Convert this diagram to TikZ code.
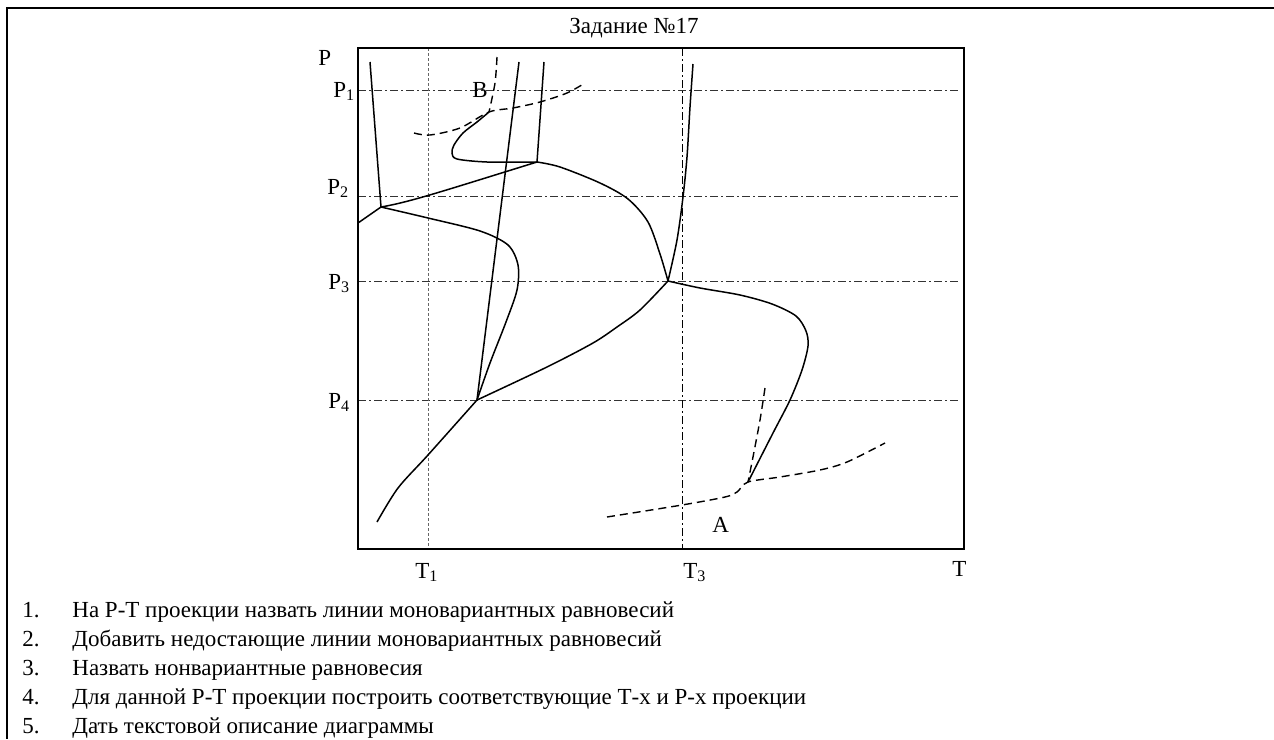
\documentclass[tikz,border=0pt]{standalone}
\usepackage{fontspec}
\setmainfont{Liberation Serif}
\begin{document}
\begin{tikzpicture}[x=0.5pt,y=-0.5pt,
    curve/.style={line width=0.75pt},
    dashcurve/.style={line width=0.7pt, dash pattern=on 4pt off 2.5pt},
    gridline/.style={line width=0.45pt, black!80, dash pattern=on 4pt off 1.5pt on 1pt off 1.5pt},
    tline/.style={line width=0.45pt, black!60, dash pattern=on 1.5pt off 1pt},
    lab/.style={inner sep=0pt, anchor=base west, font=\fontsize{11.5}{13}\selectfont}]
    \useasboundingbox (0,0) rectangle (1274,739);

    % Frame of the page
    \draw[line width=1.3pt] (6,8) -- (1274,8);
    \draw[line width=1.3pt] (7,8) -- (7,739);
    \node[lab] (title) at (569,33) {Задание №17};

    % Grid lines
    \foreach \y in {90,196,281,400}
        \draw[gridline] (358,\y) -- (961,\y);
    \draw[tline] (428,48) -- (428,548);
    \draw[gridline, black] (682,48) -- (682,548);

    % Box of the P-T projection
    \draw[line width=0.7pt] (358,48) rectangle (964,549);

    % Axis labels
    \node[lab] (lP) at (318,65) {P};
    \node[lab] (lP1) at (333,97) {P\textsubscript{1}};
    \node[lab] (lP2) at (327,194) {P\textsubscript{2}};
    \node[lab] (lP3) at (328,289) {P\textsubscript{3}};
    \node[lab] (lP4) at (328,408) {P\textsubscript{4}};
    \node[lab] (lT1) at (415,578) {T\textsubscript{1}};
    \node[lab] (lT3) at (683,578) {T\textsubscript{3}};
    \node[lab] (lT) at (952,576) {T};

    % Invariant points
    \coordinate (I1) at (381,207);
    \coordinate (I2) at (537,162);
    \coordinate (I3) at (668,281);
    \coordinate (I4) at (477,400);
    \coordinate (Bp) at (489,112);
    \coordinate (Ap) at (748,482);

    % Free ends of the lines
    \coordinate (e1) at (370,62);
    \coordinate (e2) at (358,223);
    \coordinate (e4) at (519,62);
    \coordinate (e5) at (544,62);
    \coordinate (e6) at (693,64);
    \coordinate (e7) at (377,522);

    % Lines around I1
    \draw[curve] (e1) -- (I1) -- (e2);
    \draw[curve] (I1) .. controls (410,202) and (440,192) .. (I2);
    \draw[curve] plot[smooth] coordinates {(I1) (428,218) (480,231) (508,245)
        (518,265) (517,290) (506,322) (490,363) (I4)};

    % Lines around I2
    \draw[curve] (I2) -- (e5);
    \draw[curve] plot[smooth] coordinates {(I2) (487,162) (457,159) (452,153)
        (454,145) (463,133) (477,122) (Bp)};
    \draw[curve] plot[smooth] coordinates {(I2) (560,167) (600,183) (628,199)
        (648,222) (660,254) (I3)};

    % Lines around I3
    \draw[curve] plot[smooth] coordinates {(I3) (677,240) (683,197) (687,157)
        (690,107) (e6)};
    \draw[curve] plot[smooth] coordinates {(I3) (640,310) (617,327) (593,343)
        (547,367) (I4)};
    \draw[curve] plot[smooth] coordinates {(I3) (700,288) (740,295) (772,304)
        (796,316) (806,331) (808,346) (802,370) (790,400) (773,433) (Ap)};

    % Lines around I4
    \draw[curve] (I4) -- (e4);
    \draw[curve] plot[smooth] coordinates {(I4) (428,455) (398,488) (e7)};

    % Dashed lines at B
    \draw[dashcurve] plot[smooth] coordinates {(414,133) (430,135) (460,128)
        (Bp) (513,108) (540,102) (567,93) (585,83)};
    \draw[dashcurve] plot[smooth] coordinates {(497,57) (495,83) (Bp)};
    \node[lab] (lB) at (472,97) {B};

    % Dashed lines at A
    \draw[dashcurve] plot[smooth] coordinates {(607,517) (682,505) (725,497)
        (737,492) (Ap) (780,477) (820,470) (847,462) (885,443)};
    \draw[dashcurve] plot[smooth] coordinates {(765,388) (760,420) (753,457) (Ap)};
    \node[lab] (lA) at (712,532) {A};

    % Tasks
    \foreach \i/\txt in {1/На Р-Т проекции назвать линии моновариантных равновесий,
        2/Добавить недостающие линии моновариантных равновесий,
        3/Назвать нонвариантные равновесия,
        4/Для данной Р-Т проекции построить соответствующие Т-х и Р-х проекции,
        5/Дать текстовой описание диаграммы} {
        \node[lab] (num\i) at (22,588+29*\i) {\i.};
        \node[lab] (task\i) at (72,588+29*\i) {\txt};
    }
\end{tikzpicture}
\end{document}
